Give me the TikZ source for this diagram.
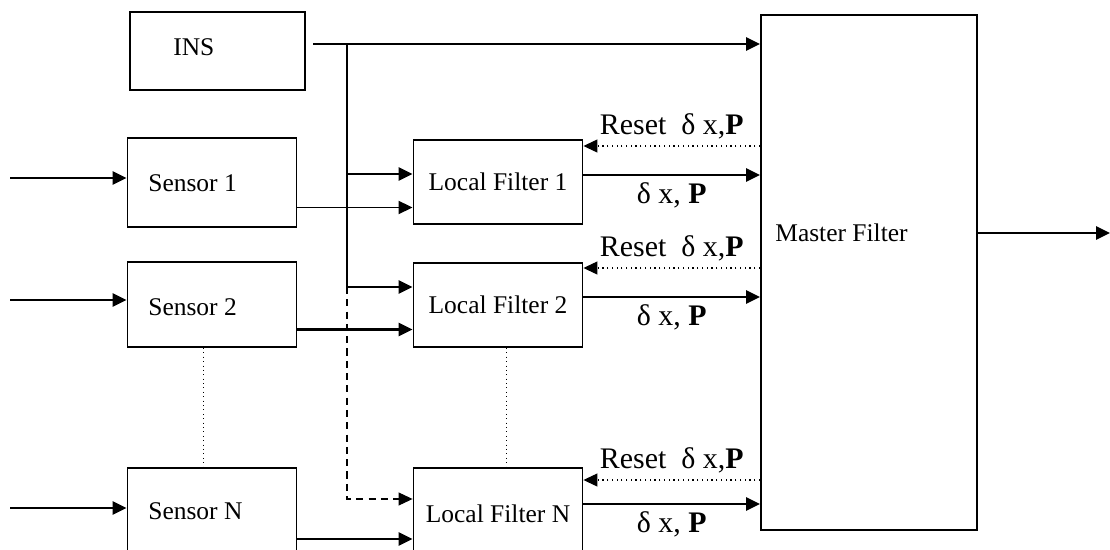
\documentclass[tikz,border=0pt]{standalone}
\usepackage{fontspec}
\setmainfont{Liberation Serif}
\usetikzlibrary{arrows.meta,positioning}

\begin{document}
\begin{tikzpicture}[
    x=0.02cm, y=-0.02cm,
    box/.style={draw, line width=1.1pt, minimum width=3.38cm, minimum height=1.7cm, font=\fontsize{14.5}{17}\selectfont},
    txt/.style={font=\fontsize{14.5}{17}\selectfont, inner sep=0pt, anchor=west},
    lbl/.style={font=\fontsize{17}{20}\selectfont},
    arrow/.style={-{Triangle[length=2.8mm,width=2.6mm]}, line width=1.5pt},
    feedback/.style={-{Triangle[length=2.8mm,width=2.6mm]}, dotted, line width=0.7pt},
    guide/.style={dotted, line width=0.5pt}
  ]
  \useasboundingbox (0,0) rectangle (1110,550);
  % boxes
  \node[box, minimum width=3.5cm, minimum height=1.56cm] (ins) at (217.5,51) {};
  \node[txt] at (173,47) {INS};
  \node[box, minimum height=1.78cm] (s1) at (212,182.5) {};
  \node[txt] at (148,183) {Sensor 1};
  \node[box] (s2) at (212,304.5) {};
  \node[txt] at (148,307) {Sensor 2};
  \node[box, minimum height=1.84cm] (sN) at (212,514) {};
  \node[txt] at (148,511) {Sensor N};
  \node[box, minimum height=1.68cm] (lf1) at (498,182) {Local Filter 1};
  \node[box, minimum height=1.68cm] (lf2) at (498,305) {Local Filter 2};
  \node[box, minimum height=1.84cm] (lfN) at (498,514) {Local Filter N};
  \node[box, minimum width=4.32cm, minimum height=10.3cm] (master) at (869,272.5) {};
  \node[txt] at (775,233) {Master Filter};

  % INS line and bus
  \coordinate (insout) at (313,44);
  \coordinate (bus) at (347,44);
  \coordinate (lf1b) at ([yshift=0.16cm]lf1.west);
  \coordinate (lf2b) at ([yshift=0.36cm]lf2.west);
  \coordinate (lfNb) at ([yshift=0.3cm]lfN.west);
  \draw[arrow] (insout) -- (insout -| master.west);
  \draw[arrow] (bus) |- (lf2b);
  \draw[arrow] (bus |- lf1b) -- (lf1b);
  \draw[arrow, line width=0.6pt, dash pattern=on 4pt off 3pt] (bus |- lf2b) |- (lfNb);

  % sensor inputs
  \coordinate (in1) at (10,178);
  \coordinate (in2) at (10,300);
  \coordinate (inN) at (10,508);
  \draw[arrow] (in1) -- (in1 -| s1.west);
  \draw[arrow] (in2) -- (in2 -| s2.west);
  \draw[arrow] (inN) -- (inN -| sN.west);

  % sensors to local filters
  \coordinate (s1o) at ([yshift=-0.5cm]s1.east);
  \coordinate (s2o) at ([yshift=-0.5cm]s2.east);
  \coordinate (sNo) at ([yshift=-0.5cm]sN.east);
  \draw[arrow, line width=1.1pt] (s1o) -- (s1o -| lf1.west);
  \draw[arrow] (s2o) -- (s2o -| lf2.west);
  \draw[arrow] (sNo) -- (sNo -| lfN.west);

  % local filters and master filter
  \coordinate (lf1o) at ([yshift=0.14cm]lf1.east);
  \coordinate (lf2o) at ([yshift=0.16cm]lf2.east);
  \coordinate (lfNo) at ([yshift=0.2cm]lfN.east);
  \coordinate (lf1r) at ([yshift=0.72cm]lf1.east);
  \coordinate (lf2r) at ([yshift=0.74cm]lf2.east);
  \coordinate (lfNr) at ([yshift=0.68cm]lfN.east);
  \draw[arrow] (lf1o) -- (lf1o -| master.west) node[lbl, midway, below] {δ x, \textbf{P}};
  \draw[arrow] (lf2o) -- (lf2o -| master.west) node[lbl, midway, below] {δ x, \textbf{P}};
  \draw[arrow] (lfNo) -- (lfNo -| master.west) node[lbl, midway, below] {δ x, \textbf{P}};
  \draw[feedback] (lf1r -| master.west) -- (lf1r) node[lbl, midway, above] {Reset\hspace{0.3cm}δ x,\textbf{P}};
  \draw[feedback] (lf2r -| master.west) -- (lf2r) node[lbl, midway, above] {Reset\hspace{0.3cm}δ x,\textbf{P}};
  \draw[feedback] (lfNr -| master.west) -- (lfNr) node[lbl, midway, above] {Reset\hspace{0.3cm}δ x,\textbf{P}};

  % output
  \coordinate (out) at (1110,233);
  \draw[arrow] (out -| master.east) -- (out);

  % omitted stages
  \draw[guide] ([xshift=-0.18cm]s2.south) -- ([xshift=-0.18cm]sN.north);
  \draw[guide] ([xshift=0.16cm]lf2.south) -- ([xshift=0.16cm]lfN.north);
\end{tikzpicture}
\end{document}
